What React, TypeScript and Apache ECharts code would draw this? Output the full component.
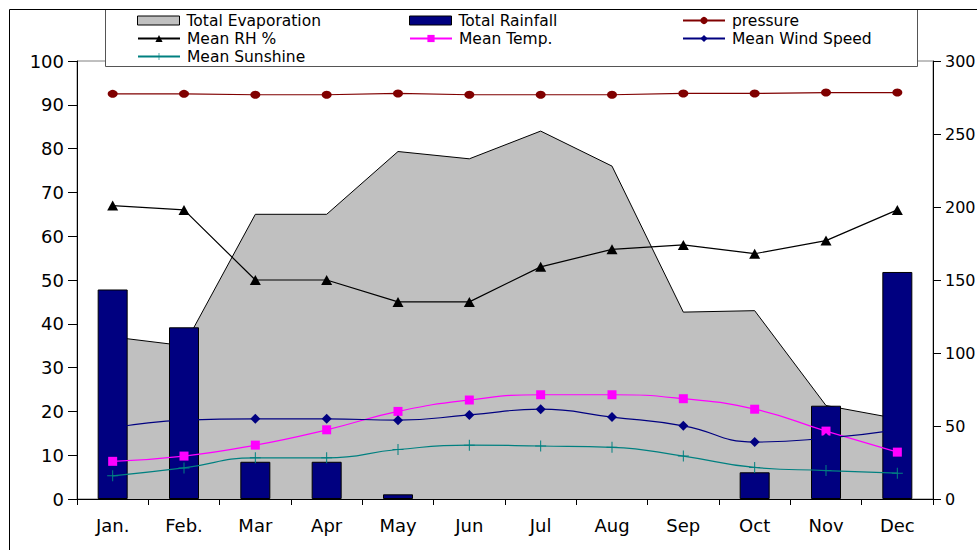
import React, { useEffect, useRef } from "react";
import * as echarts from "echarts";

const months = ["Jan.", "Feb.", "Mar", "Apr", "May", "Jun", "Jul", "Aug", "Sep", "Oct", "Nov", "Dec"];
const evaporation = [111, 105, 195, 195, 238, 233, 252, 228, 128, 129, 64, 55];
const rainfall = [143.5, 117.6, 25.5, 25.5, 3.2, 0, 0, 0, 0, 18.3, 63.9, 155.5];
const pressure = [92.5, 92.5, 92.3, 92.3, 92.6, 92.3, 92.3, 92.3, 92.6, 92.6, 92.8, 92.8];
const meanRH = [67, 66, 50, 50, 45, 45, 53, 57, 58, 56, 59, 66];
const meanTemp = [8.6, 9.8, 12.3, 15.8, 20.0, 22.6, 23.8, 23.8, 22.9, 20.5, 15.5, 10.7];
const windSpeed = [16.2, 18.0, 18.3, 18.3, 18.0, 19.2, 20.5, 18.7, 16.7, 13.0, 13.9, 15.8];
const sunshine = [5.3, 7.1, 9.4, 9.4, 11.3, 12.3, 12.1, 11.8, 9.8, 7.2, 6.5, 5.9];
const leftTicks = { min: 0, max: 100, interval: 10 };
const rightTicks = { min: 0, max: 300, interval: 50 };

const FONT = "DejaVu Sans";
const PLUS = "path://M5 0h1v5h5v1h-5v5h-1v-5h-5v-1h5z";

export default function App() {
  const ref = useRef<HTMLDivElement>(null);
  useEffect(() => {
    if (!ref.current) return;
    const chart = echarts.init(ref.current, null, { renderer: "svg" });

    const legendPos: Record<string, { left: number; cy: number; icon?: string; itemStyle?: any }> = {
      "Total Evaporation": { left: 137, cy: 20.5, icon: "rect", itemStyle: { color: "#c0c0c0", borderColor: "#000", borderWidth: 1 } },
      "Total Rainfall": { left: 409, cy: 20.5, icon: "rect", itemStyle: { color: "#000080", borderColor: "#000", borderWidth: 1 } },
      pressure: { left: 682, cy: 20.5 },
      "Mean RH %": { left: 137, cy: 38.5 },
      "Mean Temp.": { left: 409, cy: 38.5 },
      "Mean Wind Speed": { left: 682, cy: 38.5 },
      "Mean Sunshine": { left: 137, cy: 56.5 },
    };

    const legends = Object.keys(legendPos).map((name) => {
      const p = legendPos[name];
      const l: any = {
        data: [name],
        left: p.left,
        top: p.cy - 8,
        padding: 0,
        itemWidth: 42,
        itemHeight: 9,
        itemGap: 0,
        selectedMode: false,
        z: 6,
        textStyle: { fontFamily: FONT, fontSize: 15.5, lineHeight: 16, color: "#000", padding: [0, 0, 0, 2] },
      };
      if (p.icon) l.icon = p.icon;
      if (p.itemStyle) l.itemStyle = p.itemStyle;
      return l;
    });

    const lineSeries = (name: string, data: number[], color: string, symbol: string, symbolSize: any, smooth: boolean) => ({
      name,
      type: "line",
      yAxisIndex: 0,
      data,
      smooth,
      symbol,
      symbolSize,
      showSymbol: true,
      lineStyle: { color, width: 1.2 },
      itemStyle: { color, borderColor: color, borderWidth: 0 },
      z: 4,
    });

    chart.setOption({
      animation: false,
      backgroundColor: "#fff",
      textStyle: { fontFamily: FONT },
      grid: {
        left: 77,
        right: 44,
        top: 61,
        bottom: 51,
        containLabel: false,
        outerBoundsMode: "none",
        show: true,
        borderColor: "#808080",
        borderWidth: 1,
        backgroundColor: "transparent",
      },
      legend: legends,
      xAxis: {
        type: "category",
        data: months,
        boundaryGap: true,
        axisLine: { lineStyle: { color: "#000", width: 1 } },
        axisTick: { show: true, alignWithLabel: false, length: 6, lineStyle: { color: "#000" } },
        axisLabel: { color: "#000", fontFamily: FONT, fontSize: 18, margin: 17 },
        splitLine: { show: false },
      },
      yAxis: [
        {
          type: "value",
          position: "left",
          ...leftTicks,
          axisLine: { show: true, lineStyle: { color: "#000", width: 1 } },
          axisTick: { show: true, length: 9, lineStyle: { color: "#000" } },
          axisLabel: { color: "#000", fontFamily: FONT, fontSize: 18, margin: 13 },
          splitLine: { show: false },
        },
        {
          type: "value",
          position: "right",
          ...rightTicks,
          axisLine: { show: true, lineStyle: { color: "#000", width: 1 } },
          axisTick: { show: true, length: 8, lineStyle: { color: "#000" } },
          axisLabel: { color: "#000", fontFamily: FONT, fontSize: 16, margin: 12 },
          splitLine: { show: false },
        },
      ],
      graphic: [
        { type: "rect", shape: { x: 105.5, y: 9.5, width: 812, height: 57 }, style: { fill: "#fff", stroke: "#555", lineWidth: 1 }, z: 5, silent: true },
        { type: "rect", shape: { x: 9.5, y: 9.5, width: 1200, height: 800 }, style: { fill: "none", stroke: "#000", lineWidth: 1 }, z: 7, silent: true },
      ],
      series: [
        {
          name: "Total Evaporation",
          type: "line",
          yAxisIndex: 1,
          data: evaporation,
          symbol: "none",
          showSymbol: false,
          lineStyle: { color: "#000", width: 1 },
          areaStyle: { color: "#c0c0c0", opacity: 1 },
          itemStyle: { color: "#c0c0c0" },
          z: 1,
        },
        {
          name: "Total Rainfall",
          type: "bar",
          yAxisIndex: 1,
          data: rainfall.map((v) => (v === 0 ? "-" : v)),
          barWidth: 30,
          itemStyle: { color: "#000080", borderColor: "#000", borderWidth: 1 },
          z: 2,
        },
        lineSeries("pressure", pressure, "#800000", "circle", [10, 8], false),
        lineSeries("Mean RH %", meanRH, "#000000", "triangle", [11, 10], false),
        lineSeries("Mean Temp.", meanTemp, "#FF00FF", "rect", 9, true),
        lineSeries("Mean Wind Speed", windSpeed, "#000080", "diamond", [10, 10], true),
        lineSeries("Mean Sunshine", sunshine, "#008080", PLUS, 11, true),
      ],
    });
    return () => chart.dispose();
  }, []);
  return <div ref={ref} style={{ position: "fixed", left: 0, top: 0, width: 977, height: 550 }} />;
}
